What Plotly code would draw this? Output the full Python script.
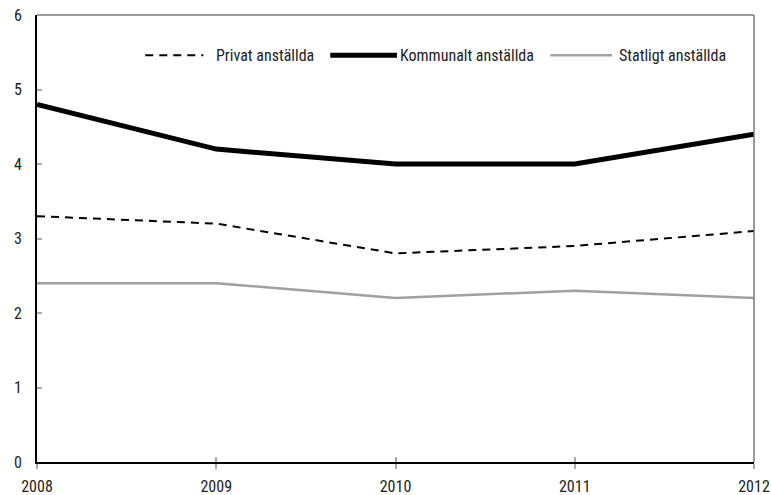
import plotly.graph_objects as go

years = [2008, 2009, 2010, 2011, 2012]
privat = [3.3, 3.2, 2.8, 2.9, 3.1]
kommunalt = [4.8, 4.2, 4.0, 4.0, 4.4]
statligt = [2.4, 2.4, 2.2, 2.3, 2.2]

series_names = ["Privat anställda", "Kommunalt anställda", "Statligt anställda"]
y_ticks = [0, 1, 2, 3, 4, 5, 6]

FONT = "Liberation Sans Narrow, Arial Narrow, Roboto Condensed, sans-serif"
FSIZE = 16

fig = go.Figure()
fig.add_trace(go.Scatter(x=years, y=statligt, mode="lines", name=series_names[2],
                         line=dict(color="#a0a0a0", width=2.5)))
fig.add_trace(go.Scatter(x=years, y=privat, mode="lines", name=series_names[0],
                         line=dict(color="black", width=2, dash="8px,6px")))
fig.add_trace(go.Scatter(x=years, y=kommunalt, mode="lines", name=series_names[1],
                         line=dict(color="black", width=5)))
# invisible trace carrying the inside x ticks
fig.add_trace(go.Scatter(x=years, y=privat, xaxis="x2", mode="lines",
                         line=dict(width=0), hoverinfo="skip", showlegend=False))

# hand-built legend row
legend_items = [
    (0.151, 0.232, 0.250, dict(color="black", width=2, dash="8px,6px"), series_names[0]),
    (0.409, 0.502, 0.506, dict(color="black", width=5), series_names[1]),
    (0.716, 0.802, 0.812, dict(color="#a0a0a0", width=2.5), series_names[2]),
]
shapes = []
annotations = []
for x0, x1, xt, ln, label in legend_items:
    shapes.append(dict(type="line", xref="paper", yref="paper", x0=x0, x1=x1,
                       y0=0.91, y1=0.91, line=ln))
    annotations.append(dict(xref="paper", yref="paper", x=xt, y=0.91, text=label,
                            showarrow=False, xanchor="left", yanchor="middle",
                            xshift=-2,
                            font=dict(family=FONT, size=FSIZE, color="#222")))

# top and right frame lines
shapes.append(dict(type="line", xref="paper", yref="paper", x0=0, x1=1, y0=1, y1=1,
                   line=dict(color="#777", width=1.5)))
shapes.append(dict(type="line", xref="paper", yref="paper", x0=1, x1=1, y0=0, y1=1,
                   line=dict(color="#777", width=1.5)))

fig.update_layout(
    width=771, height=495,
    margin=dict(l=37, r=17, t=15, b=33, autoexpand=False),
    plot_bgcolor="white", paper_bgcolor="white",
    showlegend=False,
    font=dict(family=FONT, size=FSIZE, color="#222"),
    xaxis=dict(range=[2008, 2012], tickvals=years, ticktext=[str(y) for y in years],
               showgrid=False, zeroline=False, showline=True, linecolor="black",
               linewidth=2, ticks="outside", ticklen=5, tickcolor="#aaa",
               tickwidth=2, automargin=False, ticklabelstandoff=4,
               tickfont=dict(family=FONT, size=FSIZE)),
    xaxis2=dict(range=[2008, 2012], overlaying="x", side="bottom", anchor="y",
                tickvals=years, showticklabels=False, showgrid=False,
                zeroline=False, showline=False, ticks="inside", ticklen=5,
                tickcolor="#aaa", tickwidth=2, automargin=False),
    yaxis=dict(range=[0, 6], tickvals=y_ticks, showgrid=False, zeroline=False,
               showline=True, linecolor="black", linewidth=2, ticks="inside",
               ticklen=5, tickcolor="#aaa", tickwidth=1.5, automargin=False,
               ticklabelstandoff=10, tickfont=dict(family=FONT, size=FSIZE)),
    shapes=shapes,
    annotations=annotations,
)

fig.write_html("out.html")
